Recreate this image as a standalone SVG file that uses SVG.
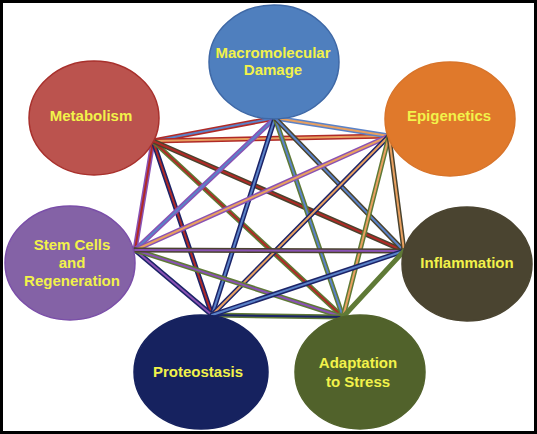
<svg xmlns="http://www.w3.org/2000/svg" width="537" height="434" viewBox="0 0 537 434">
<style>
.o{stroke-width:5;stroke-linecap:round}
.i{stroke-width:2;stroke-linecap:round}
.red{stroke:#b02a26}
.blue{stroke:#5a82c8}
.orange{stroke:#e8a060}
.purple{stroke:#8a52b4}
.navy{stroke:#1c2468}
.green{stroke:#5f7a36}
.brown{stroke:#4a432e}
.lbl{font-family:"Liberation Sans",Arial,sans-serif;font-weight:bold;font-size:15px;fill:#f2f24a;text-anchor:middle}
.node ellipse{stroke-width:1.5}
</style>
<rect x="0" y="0" width="537" height="434" fill="#ffffff"/>
<g id="connectors">
  <!-- Metabolism (153,141) -->
  <line class="o red" x1="153" y1="141" x2="275" y2="118"/><line class="i blue" x1="153" y1="141" x2="275" y2="118"/>
  <line class="o red" x1="153" y1="141" x2="389" y2="136"/><line class="i orange" x1="153" y1="141" x2="389" y2="136"/>
  <line class="o purple" x1="153" y1="141" x2="135" y2="250"/><line class="i red" x1="153" y1="141" x2="135" y2="250"/>
  <line class="o navy" x1="153" y1="141" x2="212" y2="315"/><line class="i red" x1="153" y1="141" x2="212" y2="315"/>
  <line class="o green" x1="153" y1="141" x2="343" y2="317"/><line class="i red" x1="153" y1="141" x2="343" y2="317"/>
  <line class="o brown" x1="153" y1="141" x2="404" y2="251"/><line class="i red" x1="153" y1="141" x2="404" y2="251"/>
  <!-- Macro (275,118) -->
  <line class="o blue" x1="275" y1="118" x2="389" y2="136"/><line class="i orange" x1="275" y1="118" x2="389" y2="136"/>
  <line class="o purple" x1="275" y1="118" x2="135" y2="250"/><line class="i blue" x1="275" y1="118" x2="135" y2="250"/>
  <line class="o navy" x1="275" y1="118" x2="212" y2="315"/><line class="i blue" x1="275" y1="118" x2="212" y2="315"/>
  <line class="o green" x1="275" y1="118" x2="343" y2="317"/><line class="i blue" x1="275" y1="118" x2="343" y2="317"/>
  <line class="o brown" x1="275" y1="118" x2="404" y2="251"/><line class="i blue" x1="275" y1="118" x2="404" y2="251"/>
  <!-- Epigenetics (389,136) -->
  <line class="o purple" x1="389" y1="136" x2="135" y2="250"/><line class="i orange" x1="389" y1="136" x2="135" y2="250"/>
  <line class="o navy" x1="389" y1="136" x2="212" y2="315"/><line class="i orange" x1="389" y1="136" x2="212" y2="315"/>
  <line class="o green" x1="389" y1="136" x2="343" y2="317"/><line class="i orange" x1="389" y1="136" x2="343" y2="317"/>
  <line class="o brown" x1="389" y1="136" x2="404" y2="251"/><line class="i orange" x1="389" y1="136" x2="404" y2="251"/>
  <!-- Stem (135,250) -->
  <line class="o navy" x1="135" y1="250" x2="212" y2="315"/><line class="i purple" x1="135" y1="250" x2="212" y2="315"/>
  <line class="o green" x1="135" y1="250" x2="343" y2="317"/><line class="i purple" x1="135" y1="250" x2="343" y2="317"/>
  <line class="o brown" x1="135" y1="250" x2="404" y2="251"/><line class="i purple" x1="135" y1="250" x2="404" y2="251"/>
  <!-- Proteostasis (212,315) -->
  <line class="o green" x1="212" y1="315" x2="343" y2="317"/><line class="i navy" x1="212" y1="315" x2="343" y2="317"/>
  <line class="o navy" x1="212" y1="315" x2="404" y2="251"/><line class="i blue" x1="212" y1="315" x2="404" y2="251"/>
  <!-- Adaptation (343,317) -->
  <line class="o green" x1="343" y1="317" x2="404" y2="251"/><line class="i green" x1="343" y1="317" x2="404" y2="251"/>
</g>
<g id="node-macromolecular-damage" class="node">
  <ellipse cx="274" cy="62" rx="65" ry="57" fill="#4f7fbe" stroke="#3e68a6"/>
  <text class="lbl" x="273" y="58">Macromolecular</text>
  <text class="lbl" x="273" y="75">Damage</text>
</g>
<g id="node-metabolism" class="node">
  <ellipse cx="94" cy="118" rx="65" ry="57" fill="#bb534e" stroke="#a8302c"/>
  <text class="lbl" x="91" y="121">Metabolism</text>
</g>
<g id="node-epigenetics" class="node">
  <ellipse cx="450" cy="119" rx="65" ry="57" fill="#e0792b" stroke="#d8742a"/>
  <text class="lbl" x="449" y="121">Epigenetics</text>
</g>
<g id="node-stem-cells" class="node">
  <ellipse cx="70" cy="263" rx="65" ry="57" fill="#8462a6" stroke="#7a4ea8"/>
  <text class="lbl" x="72" y="250">Stem Cells</text>
  <text class="lbl" x="72" y="268">and</text>
  <text class="lbl" x="72" y="286">Regeneration</text>
</g>
<g id="node-proteostasis" class="node">
  <ellipse cx="201" cy="372" rx="67" ry="57" fill="#16225f" stroke="#16225f"/>
  <text class="lbl" x="198" y="377">Proteostasis</text>
</g>
<g id="node-adaptation" class="node">
  <ellipse cx="360" cy="372" rx="65" ry="57" fill="#51622b" stroke="#51622b"/>
  <text class="lbl" x="358" y="368">Adaptation</text>
  <text class="lbl" x="358" y="387">to Stress</text>
</g>
<g id="node-inflammation" class="node">
  <ellipse cx="467" cy="264" rx="65" ry="57" fill="#4a4430" stroke="#4a4430"/>
  <text class="lbl" x="467" y="268">Inflammation</text>
</g>
<rect x="1.5" y="1.5" width="534" height="431" fill="none" stroke="#000" stroke-width="3"/>
</svg>
